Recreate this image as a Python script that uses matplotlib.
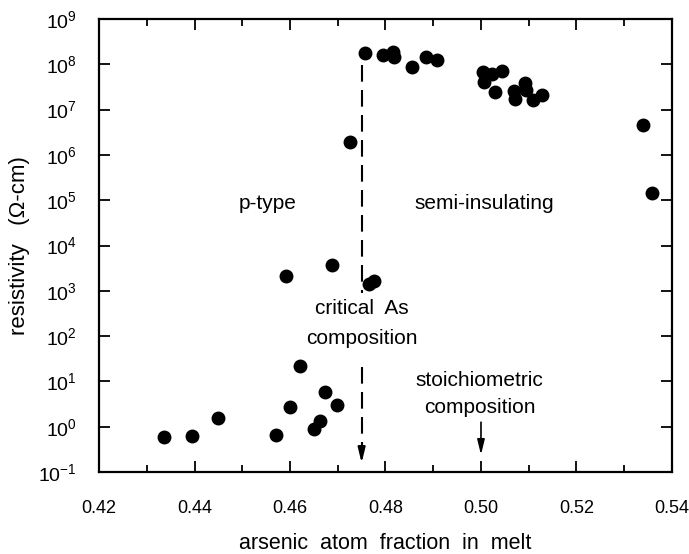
import numpy as np
import matplotlib
matplotlib.use('Agg')
import matplotlib.pyplot as plt
from matplotlib.ticker import FixedLocator, MultipleLocator, FuncFormatter

plt.rcParams['font.family'] = ['Liberation Sans', 'DejaVu Sans']
plt.rcParams['mathtext.default'] = 'regular'

# arsenic atom fraction in melt and resistivity (ohm-cm)
frac = [0.4337, 0.4395, 0.4449, 0.4571, 0.4601, 0.4620, 0.4650, 0.4662, 0.4673, 0.4699,
        0.4592, 0.4689, 0.4765, 0.4775, 0.4725,
        0.4757, 0.4795, 0.4816, 0.4817, 0.4855, 0.4884, 0.4907,
        0.5004, 0.5006, 0.5023, 0.5030, 0.5045, 0.5069, 0.5072, 0.5092, 0.5094,
        0.5109, 0.5128, 0.5339, 0.5359]
log_rho = [-0.23, -0.20, 0.19, -0.18, 0.44, 1.34, -0.06, 0.13, 0.77, 0.49,
           3.33, 3.56, 3.15, 3.22, 6.29,
           8.26, 8.21, 8.28, 8.16, 7.93, 8.17, 8.10,
           7.84, 7.61, 7.79, 7.39, 7.86, 7.42, 7.23, 7.58, 7.43,
           7.21, 7.32, 6.65, 5.15]
rho = [10 ** v for v in log_rho]

critical_x = 0.475
stoich_x = 0.50

fig = plt.figure(figsize=(6.89, 5.54), dpi=100)
ax = fig.add_axes([0.1437, 0.148, 0.8316, 0.8177])

ax.semilogy(frac, rho, 'o', color='black', markersize=9, linestyle='None')

ax.set_xlim(0.42, 0.54)
ax.set_ylim(1e-1, 1e9)

# critical composition: dashed line broken by its label, arrow at the bottom
dash = (0, (8, 4))
ax.plot([critical_x, critical_x], [10 ** 7.98, 10 ** 2.95], color='black', lw=1.5,
        linestyle=dash)
ax.plot([critical_x, critical_x], [10 ** 1.32, 10 ** -0.5], color='black', lw=1.5,
        linestyle=dash)
arrow = dict(arrowstyle='-|>,head_width=0.22,head_length=0.9', color='black',
             shrinkA=0, shrinkB=0)
ax.annotate('', xy=(critical_x, 10 ** -0.8), xytext=(critical_x, 10 ** -0.45),
            arrowprops=dict(arrow, lw=1.5))
ax.annotate('', xy=(stoich_x, 10 ** -0.62), xytext=(stoich_x, 10 ** 0.10),
            arrowprops=dict(arrow, lw=1.2))

txt = dict(ha='center', va='center', fontsize=15)
ax.text(0.4554, 10 ** 4.92, 'p-type', **txt)
ax.text(0.5006, 10 ** 4.92, 'semi-insulating', **txt)
ax.text(critical_x, 10 ** 2.6, 'critical  As', **txt)
ax.text(critical_x, 10 ** 1.94, 'composition', **txt)
ax.text(0.4997, 10 ** 1.03, 'stoichiometric', **txt)
ax.text(0.4997, 10 ** 0.43, 'composition', **txt)

ax.xaxis.set_major_locator(MultipleLocator(0.02))
ax.xaxis.set_minor_locator(MultipleLocator(0.01))
ax.xaxis.set_major_formatter(FuncFormatter(lambda v, p: f'{v:.2f}'))
ax.yaxis.set_major_locator(FixedLocator([10.0 ** k for k in range(-1, 10)]))
ax.yaxis.set_minor_locator(FixedLocator([]))
ax.yaxis.set_major_formatter(FuncFormatter(lambda v, p: r'$10^{%d}$' % round(np.log10(v))))

ax.tick_params(which='both', direction='in', top=True, right=True, width=1.3,
               labelsize=14)
ax.tick_params(which='major', length=8)
ax.tick_params(which='minor', length=5)
ax.tick_params(axis='x', pad=20, labelsize=13)
ax.tick_params(axis='y', pad=16)
for s in ax.spines.values():
    s.set_linewidth(1.6)

ax.set_xlabel('arsenic  atom  fraction  in  melt', fontsize=15.5, labelpad=12)
ax.set_ylabel('resistivity   (Ω-cm)', fontsize=16, labelpad=6)

fig.savefig('out.png', dpi=100)
